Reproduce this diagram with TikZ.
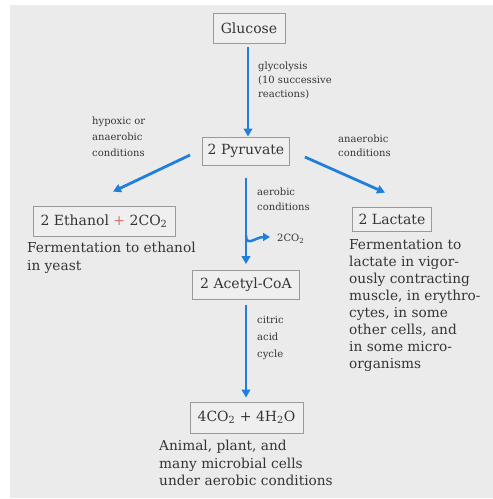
\documentclass[tikz,border=0pt]{standalone}
\usepackage{fontspec}
\setmainfont{DejaVu Serif}
\usetikzlibrary{arrows.meta}
\definecolor{panel}{HTML}{EBEBEB}
\definecolor{ink}{HTML}{353535}
\definecolor{flow}{HTML}{1F7FDB}
\definecolor{frame}{HTML}{9A9A9A}
\definecolor{boxfill}{HTML}{EFEFEF}
\definecolor{plusred}{HTML}{D86A6A}

\tikzset{
  compound/.style={draw=frame, line width=0.8pt, fill=boxfill, text=ink,
    font=\fontsize{14}{16}\selectfont, inner sep=0pt},
  steplabel/.style={text=ink, font=\fontsize{10}{14}\selectfont,
    align=left, inner sep=0pt, anchor=north west},
  caption/.style={text=ink, font=\fontsize{13.7}{17.5}\selectfont,
    align=left, inner sep=0pt, anchor=north west},
  flowarrow/.style={draw=flow, line width=2.8pt,
    -{Triangle[length=8pt,width=8.5pt]}},
}

\begin{document}
\begin{tikzpicture}[x=1pt,y=-1pt]
  \useasboundingbox (0,0) rectangle (493,499);
  \fill[panel] (10,5) rectangle (493,498);

  % metabolites
  \node[compound, minimum width=72pt, minimum height=30pt] (glc) at (249,28) {Glucose};
  \node[compound, minimum width=87pt, minimum height=28pt] (pyr) at (246,151) {2 Pyruvate};
  \node[compound, minimum width=142pt, minimum height=30pt] (eth) at (104,221)
    {2 Ethanol {\color{plusred}+} 2CO\textsubscript{2}};
  \node[compound, minimum width=79pt, minimum height=24pt] (lac) at (392,219) {2 Lactate};
  \node[compound, minimum width=107pt, minimum height=29pt] (aca) at (246,285) {2 Acetyl-CoA};
  \node[compound, minimum width=113pt, minimum height=31pt] (fin) at (246.5,417.5)
    {4CO\textsubscript{2} + 4H\textsubscript{2}O};

  % pathways
  \draw[flowarrow, shorten <=4pt] ([xshift=-1pt]glc.south) -- ([xshift=-1pt]glc.south |- pyr.north);
  \draw[flowarrow] ([xshift=-12pt,yshift=-4pt]pyr.west) -- ([xshift=9pt,yshift=14pt]eth.north);
  \draw[flowarrow] ([xshift=15pt,yshift=-6pt]pyr.east) -- ([xshift=-7pt,yshift=14pt]lac.north);
  \draw[flowarrow, shorten <=13pt, shorten >=6pt] (pyr.south) -- (pyr.south |- aca.north);
  \draw[flowarrow, shorten <=5pt, shorten >=4pt] (aca.south) -- (aca.south |- fin.north);

  % CO2 released on the way to acetyl-CoA
  \coordinate (split) at ([yshift=-70pt]pyr.south);
  \coordinate (co2tip) at (270,237);
  \draw[draw=flow, line width=2.5pt, -{Triangle[length=7pt,width=8pt]}]
    (split) .. controls ([yshift=-12pt]split) and ([xshift=-14pt]co2tip) .. (co2tip);
  \node[steplabel, anchor=west] (co2) at (277,239) {2CO\textsubscript{2}};

  % conditions on the arrows
  \node[steplabel] (glyc) at (258,62) {glycolysis\\(10 successive\\reactions)};
  \node[steplabel, font=\fontsize{10}{16}\selectfont] (hyp) at (92,117) {hypoxic or\\anaerobic\\conditions};
  \node[steplabel, font=\fontsize{10}{13.5}\selectfont] (anae) at (338,135) {anaerobic\\conditions};
  \node[steplabel, font=\fontsize{10}{15}\selectfont] (aer) at (257,188) {aerobic\\conditions};
  \node[steplabel, font=\fontsize{10}{17}\selectfont] (tca) at (257,316) {citric\\acid\\cycle};

  % where each route runs
  \node[caption] (ethtxt) at (27,242) {Fermentation to ethanol\\in yeast};
  \node[caption, font=\fontsize{13.7}{17}\selectfont] (lactxt) at (349,239)
    {Fermentation to\\lactate in vigor-\\ously contracting\\muscle, in erythro-\\cytes, in some\\other cells, and\\in some micro-\\organisms};
  \node[caption] (fintxt) at (159,440)
    {Animal, plant, and\\many microbial cells\\under aerobic conditions};
\end{tikzpicture}
\end{document}
